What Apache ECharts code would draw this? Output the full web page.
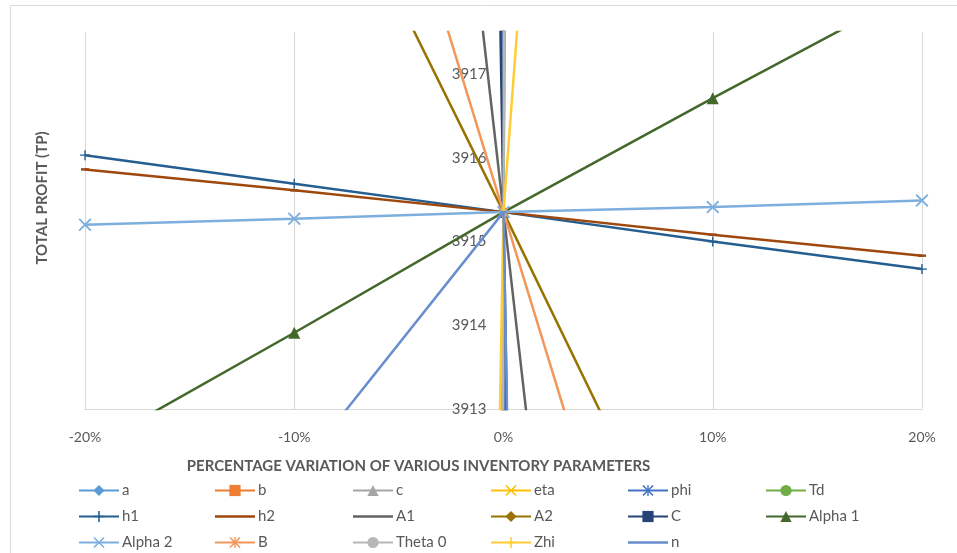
<!DOCTYPE html>
<html>
<head>
<meta charset="utf-8">
<script src="https://cdn.jsdelivr.net/npm/echarts@6/dist/echarts.min.js"></script>
<style>
html,body{margin:0;padding:0;background:#fff;}
#chart{width:957px;height:553px;}
</style>
</head>
<body>
<div id="chart"></div>
<script>
// ---- data ----
const xValues = [-20, -10, 0, 10, 20];
const yTicks = [3913, 3914, 3915, 3916, 3917];
const seriesNames = ['a','b','c','eta','phi','Td','h1','h2','A1','A2','C','Alpha 1','Alpha 2','B','Theta 0','Zhi','n'];
const a_vals      = [4715, 4315, 3915.35, 3515, 3115];
const b_vals      = [3015, 3465, 3915.35, 4365, 4815];
const c_vals      = [5115, 4515, 3915.35, 3315, 2715];
const eta_vals    = [2835, 3375, 3915.35, 4455, 4995];
const phi_vals    = [4615, 4265, 3915.35, 3565, 3215];
const Td_vals     = [2515, 3215, 3915.35, 4615, 5315];
const h1_vals     = [3916.03, 3915.69, 3915.35, 3915.00, 3914.67];
const h2_vals     = [3915.86, 3915.61, 3915.35, 3915.08, 3914.83];
const A1_vals     = [3959.2, 3937.3, 3915.35, 3893.4, 3871.5];
const A2_vals     = [3925.5, 3920.4, 3915.35, 3910.2, 3905.0];
const C_vals      = [4215, 4065, 3915.35, 3765, 3615];
const Alpha1_vals = [3912.50, 3913.91, 3915.35, 3916.71, 3918.04];
const Alpha2_vals = [3915.20, 3915.27, 3915.35, 3915.41, 3915.49];
const B_vals      = [3931.6, 3923.5, 3915.35, 3907.2, 3899.1];
const Theta0_vals = [1915, 2915, 3915.35, 4915, 5915];
const Zhi_vals    = [3635.35, 3775.35, 3915.35, 3948.65, 3982.0];
const n_vals      = [3909.07, 3912.21, 3915.35, 3775.35, 3635.35];

const allVals = [a_vals,b_vals,c_vals,eta_vals,phi_vals,Td_vals,h1_vals,h2_vals,A1_vals,A2_vals,C_vals,Alpha1_vals,Alpha2_vals,B_vals,Theta0_vals,Zhi_vals,n_vals];

// ---- styles ----
const colors = ['#5B9BD5','#ED7D31','#A5A5A5','#FFC000','#4472C4','#70AD47','#255E91','#9E480E','#636363','#997300','#264478','#43682B','#7CAFDD','#F1975A','#B7B7B7','#FFCD33','#698ED0'];
const X_SYM = 'path://M0,1L1,0L5,4L9,0L10,1L6,5L10,9L9,10L5,6L1,10L0,9L4,5Z';
const PLUS_SYM = 'path://M4.3,0L5.7,0L5.7,4.3L10,4.3L10,5.7L5.7,5.7L5.7,10L4.3,10L4.3,5.7L0,5.7L0,4.3L4.3,4.3Z';
const STAR_SYM = 'path://M0,1L1,0L5,4L9,0L10,1L6,5L10,9L9,10L5,6L1,10L0,9L4,5Z M4.4,0L5.6,0L5.6,10L4.4,10Z';
const DASH_SYM = 'path://M0,0L10,0L10,3L0,3Z';
const symbols = ['diamond','rect','triangle',X_SYM,STAR_SYM,'circle',PLUS_SYM,DASH_SYM,DASH_SYM,'diamond','rect','triangle',X_SYM,STAR_SYM,'circle',PLUS_SYM,DASH_SYM];
const sizes = [8,8,9,10,10,8,10,[8,2.5],[8,2.5],8,8,12,13,10,8,10,[8,2.5]];
const noMarkerLegend = ['h2','A1','n'];

const FONT = 'Lato, "Open Sans", sans-serif';
const series = seriesNames.map((nm, i) => ({
  name: nm,
  type: 'line',
  data: xValues.map((x, j) => [x, allVals[i][j]]),
  symbol: symbols[i],
  symbolSize: sizes[i],
  showSymbol: true,
  lineStyle: { color: colors[i], width: 2.5 },
  itemStyle: { color: colors[i] },
  clip: true,
  animation: false,
  z: 2 + i * 0.01
}));

const legendCols = [
  ['a','h1','Alpha 2'],
  ['b','h2','B'],
  ['c','A1','Theta 0'],
  ['eta','A2','Zhi'],
  ['phi','C','n'],
  ['Td','Alpha 1']
];
const legendLefts = [78, 214, 352, 490, 627, 765];
const legends = legendCols.map((col, k) => ({
  orient: 'vertical',
  left: legendLefts[k],
  top: 483,
  itemWidth: 40,
  itemHeight: 14,
  itemGap: 11,
  data: col.map(nm => noMarkerLegend.indexOf(nm) >= 0
    ? { name: nm, icon: 'path://M0,0L40,0L40,2.5L0,2.5Z' }
    : nm),
  textStyle: { fontFamily: FONT, fontSize: 15, color: '#595959', padding: [0,0,0,-2] },
  padding: 0
}));

const GRID_LEFT = 85, GRID_RIGHT = 35;
const plotW = 957 - GRID_LEFT - GRID_RIGHT;
const zeroOffset = -plotW * (0 - xValues[0]) / (xValues[xValues.length - 1] - xValues[0]);

const chart = echarts.init(document.getElementById('chart'), null, {renderer: 'canvas'});
chart.setOption({
  backgroundColor: '#ffffff',
  animation: false,
  graphic: [{
    type: 'rect', shape: { x: 10.5, y: 5.5, width: 960, height: 560 },
    style: { fill: 'none', stroke: '#d9d9d9', lineWidth: 1 }, silent: true, z: 0
  }, {
    type: 'text', x: 42, y: 198, rotation: Math.PI / 2, silent: true,
    style: { text: 'TOTAL PROFIT (TP)', fontFamily: FONT, fontSize: 15, fontWeight: 'bold',
      fill: '#595959', align: 'center', verticalAlign: 'middle' }
  }],
  grid: { left: GRID_LEFT, right: GRID_RIGHT, top: 32, bottom: 144, containLabel: false },
  xAxis: {
    type: 'value', min: -20, max: 20, interval: 10,
    name: 'PERCENTAGE VARIATION OF VARIOUS INVENTORY PARAMETERS',
    nameLocation: 'middle', nameGap: 50,
    nameTextStyle: { fontFamily: FONT, fontSize: 15, fontWeight: 'bold', color: '#595959', padding: [0, 170, 0, 0] },
    axisLine: { show: true, onZero: false, lineStyle: { color: '#d9d9d9', width: 1 } },
    axisTick: { show: false },
    axisLabel: { margin: 21, fontFamily: FONT, fontSize: 14, color: '#595959', formatter: v => v + '%' },
    splitLine: { show: true, lineStyle: { color: '#d9d9d9', width: 1 } }
  },
  yAxis: {
    type: 'value', min: 3913, max: 3917.5, interval: 1,
    position: 'left', offset: zeroOffset,
    axisLine: { show: false, onZero: false },
    axisTick: { show: false },
    axisLabel: { margin: 17, fontFamily: FONT, fontSize: 15, color: '#595959',
      showMaxLabel: false,
      formatter: v => (yTicks.indexOf(v) >= 0 ? String(v) : '') },
    splitLine: { show: false }
  },
  legend: legends,
  series: series
});
</script>
</body>
</html>
